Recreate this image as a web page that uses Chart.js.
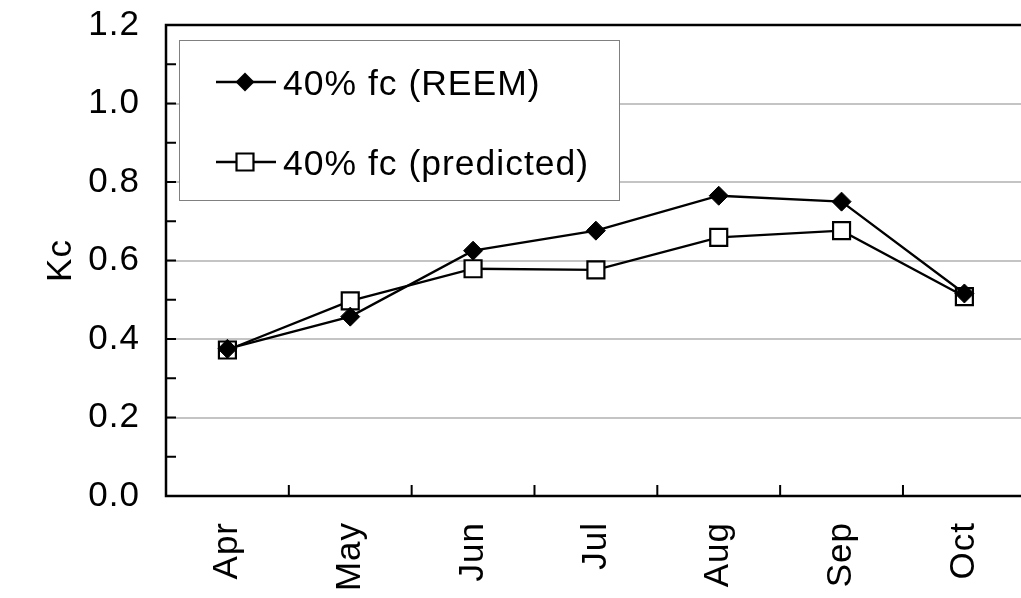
<!DOCTYPE html>
<html>
<head>
<meta charset="utf-8">
<title>Kc</title>
<script src="https://cdn.jsdelivr.net/npm/chart.js@4.4.1/dist/chart.umd.min.js"></script>
<style>
  html, body { margin: 0; padding: 0; background: #fff; overflow: hidden; }
  #wrap { width: 1040px; height: 598px; }
</style>
</head>
<body>
<div id="wrap"><canvas id="kcChart" width="1040" height="598"></canvas></div>
<script>
const months = ["Apr", "May", "Jun", "Jul", "Aug", "Sep", "Oct"];
const reemKc = [0.375, 0.457, 0.625, 0.676, 0.765, 0.750, 0.516];
const predictedKc = [0.372, 0.497, 0.579, 0.576, 0.659, 0.676, 0.508];
const seriesNames = ["40% fc (REEM)", "40% fc (predicted)"];
const yMin = 0, yMax = 1.2, yStep = 0.1;

const FONT = { family: "'Liberation Sans', Arial, sans-serif", size: 35 };

// frame, inward tick marks and the boxed legend inside the plot
const framePlugin = {
  id: "frame",
  beforeDraw(chart) {
    chart.ctx.letterSpacing = "1px";
  },
  afterDatasetsDraw(chart) {
    const { ctx, chartArea: a, scales } = chart;
    const x = scales.x, y = scales.y;
    ctx.save();
    ctx.strokeStyle = "#000";
    ctx.lineWidth = 2.5;
    ctx.beginPath();
    ctx.moveTo(a.right, a.top);
    ctx.lineTo(a.left, a.top);
    ctx.lineTo(a.left, a.bottom);
    ctx.lineTo(a.right, a.bottom);
    ctx.stroke();

    ctx.lineWidth = 2;
    ctx.beginPath();
    y.ticks.forEach((t) => {
      const py = y.getPixelForValue(t.value);
      ctx.moveTo(a.left, py);
      ctx.lineTo(a.left + 10, py);
    });
    const half = (x.getPixelForValue(1) - x.getPixelForValue(0)) / 2;
    for (let i = 0; i <= months.length; i++) {
      const px = x.getPixelForValue(i) - half;
      ctx.moveTo(px, a.bottom);
      ctx.lineTo(px, a.bottom - 11);
    }
    ctx.stroke();

    // legend
    const box = { left: 179, top: 40, right: 619, bottom: 200 };
    ctx.fillStyle = "#fff";
    ctx.fillRect(box.left, box.top, box.right - box.left, box.bottom - box.top);
    ctx.strokeStyle = "#808080";
    ctx.lineWidth = 1;
    ctx.strokeRect(box.left + 0.5, box.top + 0.5, box.right - box.left, box.bottom - box.top);

    const rows = [82, 162];
    chart.data.datasets.forEach((ds, i) => {
      const ly = rows[i];
      ctx.strokeStyle = "#000";
      ctx.lineWidth = ds.borderWidth;
      ctx.beginPath();
      ctx.moveTo(216, ly);
      ctx.lineTo(276, ly);
      ctx.stroke();
      const cx = 245;
      ctx.beginPath();
      if (ds.pointStyle === "rectRot") {
        const r = ds.pointRadius;
        ctx.moveTo(cx, ly - r);
        ctx.lineTo(cx + r, ly);
        ctx.lineTo(cx, ly + r);
        ctx.lineTo(cx - r, ly);
        ctx.closePath();
        ctx.fillStyle = ds.pointBackgroundColor;
        ctx.fill();
      } else {
        const s = ds.pointRadius * Math.SQRT1_2;
        ctx.rect(cx - s, ly - s, 2 * s, 2 * s);
        ctx.fillStyle = ds.pointBackgroundColor;
        ctx.fill();
        ctx.lineWidth = ds.pointBorderWidth;
        ctx.stroke();
      }
      ctx.fillStyle = "#000";
      ctx.font = "35.5px " + FONT.family;
      ctx.letterSpacing = "1px";
      ctx.textAlign = "left";
      ctx.textBaseline = "alphabetic";
      ctx.fillText(ds.label, 283, ly + 13);
    });
    ctx.restore();
  },
};

new Chart(document.getElementById("kcChart"), {
  type: "line",
  data: {
    labels: months,
    datasets: [
      {
        label: seriesNames[0],
        data: reemKc,
        borderColor: "#000",
        borderWidth: 2.3,
        pointStyle: "rectRot",
        pointRadius: 9.5,
        pointBackgroundColor: "#000",
        pointBorderColor: "#000",
        pointBorderWidth: 1,
        tension: 0,
      },
      {
        label: seriesNames[1],
        data: predictedKc,
        borderColor: "#000",
        borderWidth: 2.3,
        pointStyle: "rect",
        pointRadius: 12,
        pointBackgroundColor: "#fff",
        pointBorderColor: "#000",
        pointBorderWidth: 2.2,
        tension: 0,
      },
    ],
  },
  options: {
    responsive: false,
    animation: false,
    events: [],
    layout: { padding: { top: 25, right: 8, left: 0, bottom: 0 } },
    plugins: {
      legend: { display: false },
      tooltip: { enabled: false },
    },
    scales: {
      x: {
        type: "category",
        offset: true,
        grid: { display: false, drawTicks: false },
        border: { display: false },
        ticks: {
          color: "#000",
          font: FONT,
          minRotation: 90,
          maxRotation: 90,
          padding: 26,
          autoSkip: false,
        },
        afterFit(scale) {
          scale.height = 102;
          scale.paddingLeft = 0;
          scale.paddingRight = 0;
        },
      },
      y: {
        min: yMin,
        max: yMax,
        border: { display: false },
        grid: {
          drawTicks: false,
          lineWidth: 2,
          color: (c) => {
            const k = Math.round(c.tick.value * 10);
            return k > 0 && k < 12 && k % 2 === 0 ? "#c4c4c4" : "rgba(0,0,0,0)";
          },
        },
        ticks: {
          stepSize: yStep,
          autoSkip: false,
          color: "#000",
          font: FONT,
          padding: 26,
          callback: (v) => (Math.round(v * 10) % 2 === 0 ? v.toFixed(1) : ""),
        },
        title: {
          display: true,
          text: "Kc",
          color: "#000",
          font: FONT,
          padding: { top: 40, bottom: 0 },
        },
        afterFit(scale) {
          scale.width = 166;
          scale.paddingTop = 0;
          scale.paddingBottom = 0;
        },
      },
    },
  },
  plugins: [framePlugin],
});
</script>
</body>
</html>
